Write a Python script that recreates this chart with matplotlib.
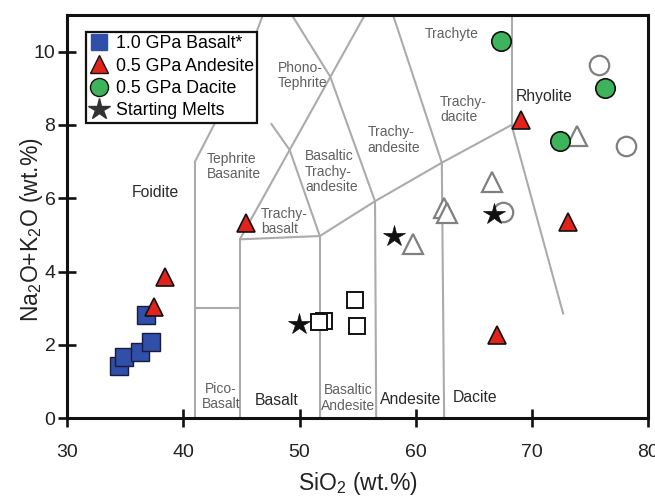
import matplotlib
matplotlib.use("Agg")
import matplotlib.pyplot as plt
import matplotlib.lines as mlines

plt.rcParams['font.family'] = ['Liberation Sans', 'DejaVu Sans']
plt.rcParams['mathtext.fontset'] = 'custom'
plt.rcParams['mathtext.rm'] = 'Liberation Sans'
plt.rcParams['mathtext.it'] = 'Liberation Sans:italic'

# ---------------- data ----------------
basalt10_x = [34.46, 34.89, 36.27, 37.19, 36.79]
basalt10_y = [1.43, 1.68, 1.80, 2.09, 2.82]

andesite05_x = [45.37, 38.45, 37.45, 73.07, 66.99, 69.06]
andesite05_y = [5.33, 3.86, 3.03, 5.36, 2.26, 8.14]

dacite05_x = [67.34, 76.26, 72.42]
dacite05_y = [10.30, 9.02, 7.57]

open_circle_x = [75.74, 78.07, 67.48]
open_circle_y = [9.64, 7.43, 5.63]

open_tri_x = [73.88, 66.56, 62.45, 62.71, 59.81]
open_tri_y = [7.70, 6.45, 5.73, 5.59, 4.74]

open_sq_x = [52.09, 51.66, 54.79, 54.94]
open_sq_y = [2.66, 2.62, 3.23, 2.52]

start_x = [49.97, 58.12, 66.70]
start_y = [2.56, 4.97, 5.57]

# TAS field boundaries (polylines, data coords)
boundaries = [
    [(41.0, 0), (41.0, 7.0), (45.0, 9.45), (46.85, 11.0)],
    [(41.0, 3.0), (44.9, 3.0)],
    [(44.9, 0), (44.9, 4.9)],
    [(44.9, 4.9), (55.62, 11.0)],
    [(44.9, 4.88), (51.75, 4.97)],
    [(51.75, 0), (51.75, 4.97)],
    [(47.57, 8.03), (49.15, 7.32), (51.75, 4.97)],
    [(49.34, 11.0), (52.64, 9.32), (56.5, 5.92)],
    [(51.75, 4.97), (56.5, 5.92), (62.25, 6.97), (68.25, 8.0)],
    [(56.6, 0), (56.5, 5.92)],
    [(62.45, 0), (62.25, 6.97)],
    [(62.25, 6.97), (58.05, 11.0)],
    [(68.25, 8.0), (68.25, 11.0)],
    [(68.25, 8.0), (72.7, 2.85)],
]

small_labels = [
    ("Tephrite\nBasanite", 42.02, 6.86, 'left'),
    ("Phono-\nTephrite", 48.16, 9.36, 'left'),
    ("Basaltic\nTrachy-\nandesite", 50.48, 6.73, 'left'),
    ("Trachy-\nbasalt", 46.69, 5.36, 'left'),
    ("Trachy-\nandesite", 55.85, 7.59, 'left'),
    ("Trachy-\ndacite", 62.10, 8.41, 'left'),
    ("Trachyte", 63.12, 10.47, 'center'),
    ("Pico-\nBasalt", 43.25, 0.59, 'center'),
    ("Basaltic\nAndesite", 54.19, 0.55, 'center'),
]
big_labels = [
    ("Foidite", 37.56, 6.15),
    ("Rhyolite", 71.10, 8.77),
    ("Basalt", 48.05, 0.47),
    ("Andesite", 59.61, 0.52),
    ("Dacite", 65.12, 0.56),
]

legend_labels = ['1.0 GPa Basalt*', '0.5 GPa Andesite', '0.5 GPa Dacite', 'Starting Melts']
x_ticks = [30, 40, 50, 60, 70, 80]
y_ticks = [0, 2, 4, 6, 8, 10]

# ---------------- figure ----------------
fig = plt.figure(figsize=(6.55, 5.0), dpi=100)
ax = fig.add_axes([67.2 / 655, (500 - 418.2) / 500, (648 - 67.2) / 655, (418.2 - 15) / 500])
ax.set_xlim(30, 80)
ax.set_ylim(0, 11)

line_col = '#ABABAB'
for poly in boundaries:
    xs = [p[0] for p in poly]
    ys = [p[1] for p in poly]
    ax.plot(xs, ys, color=line_col, lw=1.5, zorder=1, solid_capstyle='round')

for txt, x, y, ha in small_labels:
    ax.text(x, y, txt, fontsize=10, color='#606060', ha=ha, va='center',
            linespacing=1.1, zorder=2)
for txt, x, y in big_labels:
    ax.text(x, y, txt, fontsize=11.3, color='#2a2a2a', ha='center', va='center', zorder=2)

# open (comparison) markers
ax.plot(open_circle_x, open_circle_y, 'o', ms=14, mfc='white', mec='#808080', mew=1.6, ls='none', zorder=3)
ax.plot(open_tri_x, open_tri_y, '^', ms=14, mfc='white', mec='#808080', mew=1.6, ls='none', zorder=3)
ax.plot(open_sq_x, open_sq_y, 's', ms=11.5, mfc='white', mec='#111111', mew=1.4, ls='none', zorder=3)

# experimental results
ax.plot(basalt10_x, basalt10_y, 's', ms=12.5, mfc='#2F4FA8', mec='#1a1a3a', mew=1.0, ls='none', zorder=4)
ax.plot(andesite05_x, andesite05_y, '^', ms=13.5, mfc='#E2231A', mec='#111111', mew=1.2, ls='none', zorder=5)
ax.plot(dacite05_x, dacite05_y, 'o', ms=14, mfc='#3DB35B', mec='#111111', mew=1.2, ls='none', zorder=5)
ax.plot(start_x, start_y, '*', ms=16, mfc='#111111', mec='#111111', mew=0.5, ls='none', zorder=6)

# legend proxies
l1 = mlines.Line2D([], [], marker='s', ms=12, mfc='#2F4FA8', mec='#2F4FA8', ls='none')
l2 = mlines.Line2D([], [], marker='^', ms=13, mfc='#E2231A', mec='#111111', mew=1.0, ls='none')
l3 = mlines.Line2D([], [], marker='o', ms=13, mfc='#3DB35B', mec='#111111', mew=1.0, ls='none')
l4 = mlines.Line2D([], [], marker='*', ms=16, mfc='#333333', mec='#333333', ls='none')
leg = ax.legend([l1, l2, l3, l4], legend_labels,
                loc='upper left', bbox_to_anchor=(0.0327, 0.9586), borderaxespad=0,
                fontsize=12.8, frameon=True, fancybox=False, framealpha=1,
                edgecolor='#111111', facecolor='white', handlelength=1.0,
                handletextpad=0.45, borderpad=0.2, labelspacing=0.3)
leg.get_frame().set_linewidth(1.6)
leg.set_zorder(10)

for s in ax.spines.values():
    s.set_linewidth(2.2)
    s.set_color('#111111')

ax.set_xticks(x_ticks)
ax.set_yticks(y_ticks)
ax.tick_params(axis='both', direction='inout', length=13, width=1.9, colors='#111111',
               labelsize=14, labelcolor='#222222')
ax.tick_params(axis='x', pad=12)
ax.tick_params(axis='y', pad=2)

ax.set_xlabel('SiO$_{\\mathrm{2}}$ (wt.%)', fontsize=16.5, color='#222222')
ax.set_ylabel('Na$_{\\mathrm{2}}$O+K$_{\\mathrm{2}}$O (wt.%)', fontsize=16.5, color='#222222')
ax.xaxis.set_label_coords(0.5, -0.163)
ax.yaxis.set_label_coords(-0.062, 0.467)
ax.xaxis.label.set_va('center')
ax.yaxis.label.set_va('center')

fig.savefig('out.png', dpi=100)
